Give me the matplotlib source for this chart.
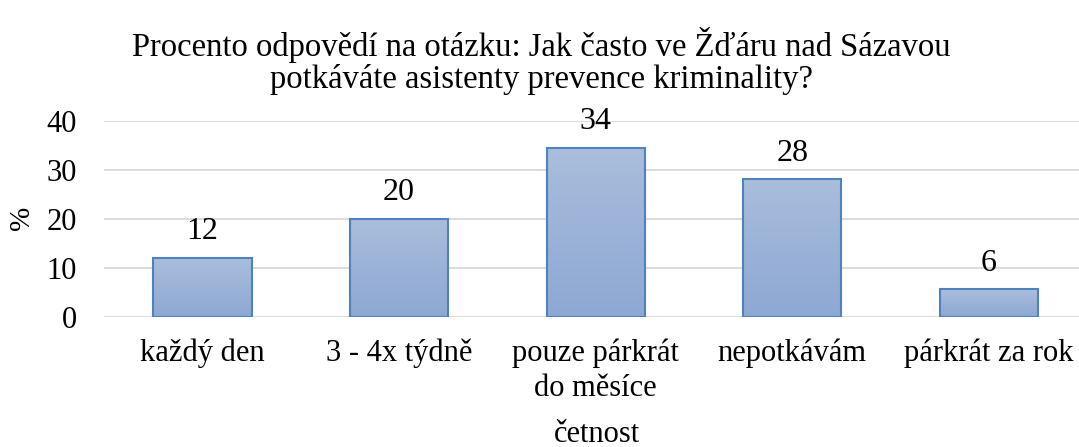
import numpy as np
import matplotlib
matplotlib.use("Agg")
import matplotlib.pyplot as plt
from matplotlib.colors import LinearSegmentedColormap

categories = ["každý den", "3 - 4x týdně", "pouze párkrát\ndo měsíce", "nepotkávám", "párkrát za rok"]
values = [12.0, 20.0, 34.4, 28.0, 5.6]
value_labels = ["12", "20", "34", "28", "6"]
yticks = [0, 10, 20, 30, 40]

title = "Procento odpovědí na otázku: Jak často ve Žďáru nad Sázavou\npotkáváte asistenty prevence kriminality?"
xlabel = "četnost"
ylabel = "%"

plt.rcParams['font.family'] = ['Liberation Serif', 'DejaVu Serif']

W, H = 1079, 447
fig = plt.figure(figsize=(W / 100, H / 100), dpi=100)
ax = fig.add_axes([104.2 / W, (H - 316.7) / H, 983 / W, 196 / H])

x = np.arange(len(categories))
bars = ax.bar(x, values, width=0.5, facecolor='none', edgecolor='#4F81BD', linewidth=1.5, zorder=3)

cmap = LinearSegmentedColormap.from_list('g', ['#8DA8D3', '#AABDDC'])
grad = np.linspace(0, 1, 256).reshape(-1, 1)
for b in bars:
    x0, y0 = b.get_x(), b.get_y()
    w, h = b.get_width(), b.get_height()
    im = ax.imshow(grad, cmap=cmap, origin='lower', aspect='auto',
                   extent=[x0, x0 + w, y0, y0 + h], zorder=2)
    im.set_clip_path(b)

for xi, v, lab in zip(x, values, value_labels):
    ax.annotate(lab, (xi, v), xytext=(0, 13.5), textcoords='offset points',
                ha='center', va='baseline', fontsize=23)

ax.set_xlim(-0.5, len(categories) - 0.5)
ax.set_ylim(0, 40)
ax.set_yticks(yticks)
ax.set_yticklabels([str(t) for t in yticks], fontsize=22)
ax.set_xticks(x)
ax.set_xticklabels(categories, fontsize=22, linespacing=1.25)
ax.tick_params(axis='both', length=0)
ax.tick_params(axis='y', pad=19.5)
ax.tick_params(axis='x', pad=16)
ax.grid(axis='y', color='#D9D9D9', linewidth=1.3, zorder=0)
ax.set_axisbelow(True)
for s in ax.spines.values():
    s.set_visible(False)

fig.text(541 / W, 1 - 61 / H, title, ha='center', va='center', fontsize=23.5, linespacing=1.05)
fig.text(597 / W, 1 - 441.5 / H, xlabel, ha='center', va='baseline', fontsize=22)
fig.text(22 / W, 1 - 218 / H, ylabel, ha='center', va='center', fontsize=21, rotation=90)

fig.savefig("out.png", dpi=100)
